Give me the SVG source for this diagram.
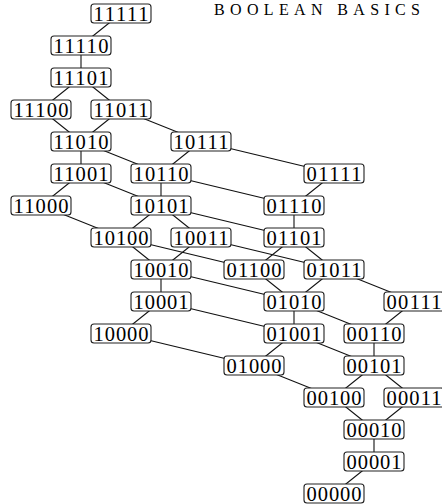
<svg xmlns="http://www.w3.org/2000/svg" width="442" height="504" viewBox="0 0 442 504">
<style>
.n rect{fill:#fff;stroke:#222;stroke-width:1.1}
.n text{font-family:"Liberation Serif","DejaVu Serif",serif;font-size:20.5px;fill:#000;text-anchor:middle}
#edges line{stroke:#111;stroke-width:1.1}
.t{font-family:"Liberation Serif","DejaVu Serif",serif;font-size:16px;fill:#000}
</style>
<rect width="442" height="504" fill="#fff"/>
<text class="t" x="214" y="15" textLength="206" lengthAdjust="spacing">BOOLEAN  BASICS</text>
<g id="edges">
<line x1="121" y1="13.5" x2="81" y2="45.5"/>
<line x1="81" y1="45.5" x2="81" y2="77.5"/>
<line x1="81" y1="77.5" x2="41" y2="109.5"/>
<line x1="81" y1="77.5" x2="121" y2="109.5"/>
<line x1="41" y1="109.5" x2="81" y2="141.5"/>
<line x1="121" y1="109.5" x2="81" y2="141.5"/>
<line x1="121" y1="109.5" x2="201" y2="141.5"/>
<line x1="81" y1="141.5" x2="81" y2="173.5"/>
<line x1="81" y1="141.5" x2="161" y2="173.5"/>
<line x1="201" y1="141.5" x2="161" y2="173.5"/>
<line x1="201" y1="141.5" x2="334" y2="173.5"/>
<line x1="81" y1="173.5" x2="41" y2="205.5"/>
<line x1="81" y1="173.5" x2="161" y2="205.5"/>
<line x1="161" y1="173.5" x2="161" y2="205.5"/>
<line x1="161" y1="173.5" x2="294" y2="205.5"/>
<line x1="334" y1="173.5" x2="294" y2="205.5"/>
<line x1="41" y1="205.5" x2="121" y2="237.5"/>
<line x1="161" y1="205.5" x2="121" y2="237.5"/>
<line x1="161" y1="205.5" x2="201" y2="237.5"/>
<line x1="161" y1="205.5" x2="294" y2="237.5"/>
<line x1="294" y1="205.5" x2="294" y2="237.5"/>
<line x1="121" y1="237.5" x2="161" y2="269.5"/>
<line x1="121" y1="237.5" x2="254" y2="269.5"/>
<line x1="201" y1="237.5" x2="161" y2="269.5"/>
<line x1="201" y1="237.5" x2="334" y2="269.5"/>
<line x1="294" y1="237.5" x2="254" y2="269.5"/>
<line x1="294" y1="237.5" x2="334" y2="269.5"/>
<line x1="161" y1="269.5" x2="161" y2="301.5"/>
<line x1="161" y1="269.5" x2="294" y2="301.5"/>
<line x1="254" y1="269.5" x2="294" y2="301.5"/>
<line x1="334" y1="269.5" x2="294" y2="301.5"/>
<line x1="334" y1="269.5" x2="414" y2="301.5"/>
<line x1="161" y1="301.5" x2="121" y2="333.5"/>
<line x1="161" y1="301.5" x2="294" y2="333.5"/>
<line x1="294" y1="301.5" x2="294" y2="333.5"/>
<line x1="294" y1="301.5" x2="374" y2="333.5"/>
<line x1="414" y1="301.5" x2="374" y2="333.5"/>
<line x1="121" y1="333.5" x2="254" y2="365.5"/>
<line x1="294" y1="333.5" x2="254" y2="365.5"/>
<line x1="294" y1="333.5" x2="374" y2="365.5"/>
<line x1="374" y1="333.5" x2="374" y2="365.5"/>
<line x1="254" y1="365.5" x2="334" y2="397.5"/>
<line x1="374" y1="365.5" x2="334" y2="397.5"/>
<line x1="374" y1="365.5" x2="414" y2="397.5"/>
<line x1="334" y1="397.5" x2="374" y2="429.5"/>
<line x1="414" y1="397.5" x2="374" y2="429.5"/>
<line x1="374" y1="429.5" x2="374" y2="461.5"/>
<line x1="374" y1="461.5" x2="334" y2="493.5"/>
</g>
<g id="n11111" class="n"><rect x="91" y="4" width="60" height="19" rx="3"/><text x="121" y="20.5" textLength="55" lengthAdjust="spacing">11111</text></g>
<g id="n11110" class="n"><rect x="51" y="36" width="60" height="19" rx="3"/><text x="81" y="52.5" textLength="55" lengthAdjust="spacing">11110</text></g>
<g id="n11101" class="n"><rect x="51" y="68" width="60" height="19" rx="3"/><text x="81" y="84.5" textLength="55" lengthAdjust="spacing">11101</text></g>
<g id="n11100" class="n"><rect x="11" y="100" width="60" height="19" rx="3"/><text x="41" y="116.5" textLength="55" lengthAdjust="spacing">11100</text></g>
<g id="n11011" class="n"><rect x="91" y="100" width="60" height="19" rx="3"/><text x="121" y="116.5" textLength="55" lengthAdjust="spacing">11011</text></g>
<g id="n11010" class="n"><rect x="51" y="132" width="60" height="19" rx="3"/><text x="81" y="148.5" textLength="55" lengthAdjust="spacing">11010</text></g>
<g id="n10111" class="n"><rect x="171" y="132" width="60" height="19" rx="3"/><text x="201" y="148.5" textLength="55" lengthAdjust="spacing">10111</text></g>
<g id="n11001" class="n"><rect x="51" y="164" width="60" height="19" rx="3"/><text x="81" y="180.5" textLength="55" lengthAdjust="spacing">11001</text></g>
<g id="n10110" class="n"><rect x="131" y="164" width="60" height="19" rx="3"/><text x="161" y="180.5" textLength="55" lengthAdjust="spacing">10110</text></g>
<g id="n01111" class="n"><rect x="304" y="164" width="60" height="19" rx="3"/><text x="334" y="180.5" textLength="55" lengthAdjust="spacing">01111</text></g>
<g id="n11000" class="n"><rect x="11" y="196" width="60" height="19" rx="3"/><text x="41" y="212.5" textLength="55" lengthAdjust="spacing">11000</text></g>
<g id="n10101" class="n"><rect x="131" y="196" width="60" height="19" rx="3"/><text x="161" y="212.5" textLength="55" lengthAdjust="spacing">10101</text></g>
<g id="n01110" class="n"><rect x="264" y="196" width="60" height="19" rx="3"/><text x="294" y="212.5" textLength="55" lengthAdjust="spacing">01110</text></g>
<g id="n10100" class="n"><rect x="91" y="228" width="60" height="19" rx="3"/><text x="121" y="244.5" textLength="55" lengthAdjust="spacing">10100</text></g>
<g id="n10011" class="n"><rect x="171" y="228" width="60" height="19" rx="3"/><text x="201" y="244.5" textLength="55" lengthAdjust="spacing">10011</text></g>
<g id="n01101" class="n"><rect x="264" y="228" width="60" height="19" rx="3"/><text x="294" y="244.5" textLength="55" lengthAdjust="spacing">01101</text></g>
<g id="n10010" class="n"><rect x="131" y="260" width="60" height="19" rx="3"/><text x="161" y="276.5" textLength="55" lengthAdjust="spacing">10010</text></g>
<g id="n01100" class="n"><rect x="224" y="260" width="60" height="19" rx="3"/><text x="254" y="276.5" textLength="55" lengthAdjust="spacing">01100</text></g>
<g id="n01011" class="n"><rect x="304" y="260" width="60" height="19" rx="3"/><text x="334" y="276.5" textLength="55" lengthAdjust="spacing">01011</text></g>
<g id="n10001" class="n"><rect x="131" y="292" width="60" height="19" rx="3"/><text x="161" y="308.5" textLength="55" lengthAdjust="spacing">10001</text></g>
<g id="n01010" class="n"><rect x="264" y="292" width="60" height="19" rx="3"/><text x="294" y="308.5" textLength="55" lengthAdjust="spacing">01010</text></g>
<g id="n00111" class="n"><rect x="384" y="292" width="60" height="19" rx="3"/><text x="414" y="308.5" textLength="55" lengthAdjust="spacing">00111</text></g>
<g id="n10000" class="n"><rect x="91" y="324" width="60" height="19" rx="3"/><text x="121" y="340.5" textLength="55" lengthAdjust="spacing">10000</text></g>
<g id="n01001" class="n"><rect x="264" y="324" width="60" height="19" rx="3"/><text x="294" y="340.5" textLength="55" lengthAdjust="spacing">01001</text></g>
<g id="n00110" class="n"><rect x="344" y="324" width="60" height="19" rx="3"/><text x="374" y="340.5" textLength="55" lengthAdjust="spacing">00110</text></g>
<g id="n01000" class="n"><rect x="224" y="356" width="60" height="19" rx="3"/><text x="254" y="372.5" textLength="55" lengthAdjust="spacing">01000</text></g>
<g id="n00101" class="n"><rect x="344" y="356" width="60" height="19" rx="3"/><text x="374" y="372.5" textLength="55" lengthAdjust="spacing">00101</text></g>
<g id="n00100" class="n"><rect x="304" y="388" width="60" height="19" rx="3"/><text x="334" y="404.5" textLength="55" lengthAdjust="spacing">00100</text></g>
<g id="n00011" class="n"><rect x="384" y="388" width="60" height="19" rx="3"/><text x="414" y="404.5" textLength="55" lengthAdjust="spacing">00011</text></g>
<g id="n00010" class="n"><rect x="344" y="420" width="60" height="19" rx="3"/><text x="374" y="436.5" textLength="55" lengthAdjust="spacing">00010</text></g>
<g id="n00001" class="n"><rect x="344" y="452" width="60" height="19" rx="3"/><text x="374" y="468.5" textLength="55" lengthAdjust="spacing">00001</text></g>
<g id="n00000" class="n"><rect x="304" y="484" width="60" height="19" rx="3"/><text x="334" y="500.5" textLength="55" lengthAdjust="spacing">00000</text></g>
</svg>
